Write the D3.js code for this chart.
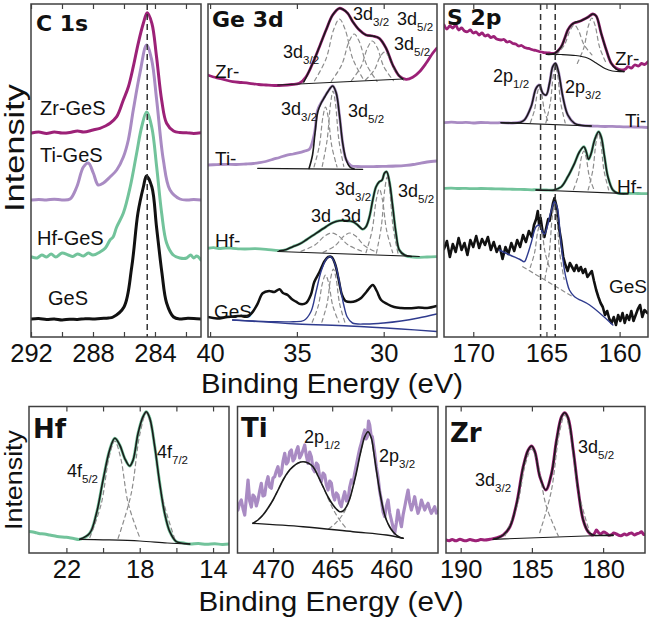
<!DOCTYPE html>
<html><head><meta charset="utf-8">
<script src="https://cdn.jsdelivr.net/npm/d3@7"></script>
<style>body{margin:0;background:#fff}</style>
</head><body><svg id="c" width="651" height="622"></svg>
<script>
// ---------------- DATA (binding energy eV, intensity a.u.) ----------------
// C 1s
const c1sTicks = [292,290,288,286,284,282], c1sTickLabels = [292,288,284];
const c1sRef = 284.5;
const c1sGeS = [[292,18],[291.5,18.5],[291,17.5],[290.5,18],[290,17],[289.5,17.8],[289,17.5],[288.5,18.3],[288,18],[287.5,18.6],[287,19],[286.7,20],[286.0,30],[285.5,70],[285.1,124],[284.75,150],[284.55,161],[284.2,150],[283.9,110],[283.55,64],[283.25,34],[282.8,20],[282.4,18],[282,18.6],[281.5,18.5],[281,18]];
const c1sHf = [[291.95,80],[291.6,79],[291.3,82],[291,80],[290.7,83],[290.4,80],[290,84],[289.6,82],[289.3,80.5],[289,83],[288.6,81],[288.3,84],[288,82],[287.55,85],[287.2,89],[286.9,97],[286.7,100],[286.47,110],[286.04,124],[285.6,150],[285.18,184],[284.86,210],[284.54,225],[284.21,210],[283.89,170],[283.57,124],[283.25,94],[282.82,82],[282.4,79],[281.95,79],[281.7,82],[281.5,79],[281.3,81],[281.03,77]];
const c1sTi = [[291.95,137],[291.5,137.5],[291,137],[290.5,137.8],[290,137],[289.48,138],[289.05,150],[288.62,170],[288.3,174],[287.98,164],[287.66,152],[287.33,154],[286.9,160],[286.47,167],[286.04,180],[285.72,197],[285.4,227],[284.97,264],[284.54,292],[284.21,277],[283.89,237],[283.46,177],[283.03,147],[282.39,138],[281.9,137],[281.5,137.5],[281.03,137]];
const c1sZr = [[291.96,204],[291.5,205],[291,203.5],[290.5,205],[290,204],[289.5,204.5],[289,206],[288.6,205],[288,207],[287.55,208.7],[287.2,211],[286.9,213.7],[286.47,220.3],[286.04,237],[285.72,250],[285.4,270.3],[285.08,293.7],[284.75,313.7],[284.5,324.3],[284.2,313.7],[283.9,280.3],[283.57,237],[283.25,213.7],[282.8,206],[282.4,204.5],[281.96,204.3],[281.5,203.5],[281.03,204.3]];

// Ge 3d
const ge3dTicks = [40,35,30];
const ge3dZr = [[40.14,262],[39.8,260],[39.47,258.7],[39.1,257],[38.7,255.3],[38.2,254.5],[37.74,253.7],[37.2,252.5],[36.78,252],[36.3,251.5],[35.82,251.7],[35.3,252.5],[34.86,253.7],[34.47,260.3],[34.09,273.7],[33.7,290.3],[33.32,307],[32.94,322],[32.55,328.7],[32.36,327.7],[32.07,323.7],[31.78,315.3],[31.4,307],[31.02,302],[30.63,301],[30.25,298.7],[29.86,288.7],[29.48,272],[29.1,261],[28.71,257.7],[28.33,259.7],[27.94,265.3],[27.56,273.7],[27.18,283.7],[26.95,288.7]];
const ge3dZrFit = [[34.6,255],[34.47,259.5],[34.09,273.7],[33.7,290.3],[33.32,307],[32.94,322],[32.55,328.7],[32.36,327.7],[32.07,323.7],[31.78,315.3],[31.4,307],[31.02,302],[30.63,301],[30.25,298.7],[29.86,288.7],[29.48,272],[29.1,261],[28.9,258]];
const ge3dZrBase = [[36.1,252],[28.9,258]];
const ge3dZrComps = [
  [[33.98,256.2],[33.33,277.7],[32.875,307.8],[32.55,318],[32.225,307.8],[31.77,277.7],[31.12,256.2]],
  [[33.02,255.7],[32.42,272.1],[32.0,295.2],[31.7,303],[31.4,295.2],[30.98,272.1],[30.38,255.7]],
  [[31.86,256.4],[31.31,270.2],[30.925,289.4],[30.65,296],[30.375,289.4],[29.99,270.2],[29.44,256.4]],
  [[31.05,257],[30.55,266.7],[30.2,280.4],[29.95,285],[29.7,280.4],[29.35,266.7],[28.85,257]]];
const ge3dTi = [[40.14,172],[39.6,172.4],[39.08,172.7],[38.5,172.5],[37.93,173],[37.5,173.5],[37.16,174.3],[36.8,175.5],[36.39,177.7],[36,179.5],[35.62,181.7],[35.2,183],[34.86,184.3],[34.55,186],[34.28,187.7],[33.99,203.7],[33.8,227],[33.51,237],[33.22,245.3],[32.94,251],[32.74,244.3],[32.55,222],[32.36,193.7],[32.17,177.7],[31.88,171.3],[31.5,170.5],[31.02,170.3],[30.4,170.5],[29.86,170.7],[29.3,171],[28.71,171.7],[28.3,172.5],[27.94,173.7],[27.5,175],[26.95,176]];
const ge3dTiFit = [[34.3,168.5],[34.1,182],[33.95,205],[33.8,225],[33.6,234],[33.4,240],[33.22,245.3],[32.94,251],[32.74,244.3],[32.55,222],[32.36,193.7],[32.17,177.7],[31.95,170],[31.7,168]];
const ge3dTiBase = [[37.26,168.7],[31.21,167.7]];
const ge3dTiComps = [
  [[34.01,170.2],[33.71,190.9],[33.5,220.1],[33.35,230],[33.2,220.1],[32.99,190.9],[32.69,170.2]],
  [[33.54,170.7],[33.26,196.9],[33.06,233.5],[32.92,246],[32.78,233.5],[32.58,196.9],[32.3,170.7]]];
const ge3dHf = [[40.14,88.7],[39.8,89.3],[39.5,88.5],[39.1,89],[38.7,88.7],[38.3,88.2],[38,88],[37.4,88.3],[36.78,87.7],[36.01,86.3],[35.6,87.5],[35.24,90.3],[34.85,93],[34.47,97],[33.9,103.7],[33.32,110.3],[32.94,114.3],[32.55,116.3],[32.17,116.3],[31.78,115.3],[31.5,112],[31.21,107.7],[31.02,110.3],[30.82,120.3],[30.63,137],[30.44,150.3],[30.25,155.3],[30.09,157],[29.96,163.7],[29.83,165.3],[29.67,155.3],[29.48,130.3],[29.29,103.7],[29.1,87],[28.71,81],[28.3,80],[27.94,79.7],[27.5,80],[26.95,80.3]];
const ge3dHfFit = [[36.01,86.3],[35.6,87.5],[35.24,90.3],[34.85,93],[34.47,97],[33.9,103.7],[33.32,110.3],[32.94,114.3],[32.55,116.3],[32.17,116.3],[31.78,115.3],[31.5,112],[31.21,107.7],[31.02,110.3],[30.82,120.3],[30.63,137],[30.44,150.3],[30.25,155.3],[30.09,157],[29.96,163.7],[29.83,165.3],[29.67,155.3],[29.48,130.3],[29.29,103.7],[29.1,87],[28.8,82],[28.4,80.5]];
const ge3dHfBase = [[36.1,85.5],[27.95,80.5]];
const ge3dHfComps = [
  [[34.76,85.7],[33.96,92],[33.4,101],[33.0,104],[32.6,101],[32.04,92],[31.24,85.7]],
  [[33.49,84.7],[32.79,91.4],[32.3,100.8],[31.95,104],[31.6,100.8],[31.11,91.4],[30.41,84.7]],
  [[31.02,84.3],[30.67,106.4],[30.425,137.4],[30.25,148],[30.075,137.4],[29.83,106.4],[29.48,84.3]],
  [[30.42,83.8],[30.14,110.2],[29.94,147.4],[29.8,160],[29.66,147.4],[29.46,110.2],[29.18,83.8]]];
const ge3dGeS = [[40.14,20],[39.6,18.5],[39.0,20],[38.4,21],[37.73,22],[37.3,32],[36.97,43.7],[36.6,46],[36.3,45],[36.0,47.7],[35.8,44],[35.53,42],[35.3,38],[35.05,35.3],[34.8,33],[34.47,34],[34.2,42],[34.0,55],[33.7,65],[33.4,76],[33.2,80],[33.0,80],[32.8,73],[32.6,58],[32.4,42],[32.2,36],[31.9,35],[31.6,36],[31.3,39],[31.0,45],[30.63,52],[30.4,46],[30.15,37],[29.8,33],[29.4,30],[29.0,29],[28.5,28.7],[28.0,29.5],[27.5,29],[26.95,31]];
const ge3dGeSFit = [[38.7,17],[37.5,16],[36.2,15.2],[35.2,15.3],[34.6,16.5],[34.2,25],[33.9,45],[33.6,66],[33.3,78],[33.1,80.5],[32.9,77],[32.7,67],[32.5,50],[32.3,32],[32.1,20],[31.8,14],[31,13],[30,14],[29,16],[28,19],[26.95,23]];
const ge3dGeSBase = [[38.7,17],[35,13],[32,11],[29,8],[26.95,5.5]];
const ge3dGeSComps = [
  [[34.12,14.7],[33.77,31.1],[33.525,54.2],[33.35,62],[33.175,54.2],[32.93,31.1],[32.58,14.7]],
  [[33.56,14.9],[33.26,33.4],[33.05,59.2],[32.9,68],[32.75,59.2],[32.54,33.4],[32.24,14.9]]];

// S 2p
const s2pTicks = [170,165,160];
const s2pRefs = [165.4,164.4];
const s2pZr = [[171.99,312],[171.8,308],[171.6,311],[171.4,309],[171.2,312],[171.0,307],[170.8,309],[170.6,306],[170.39,305.3],[170.2,307],[170.0,304],[169.8,305],[169.6,302],[169.4,304],[169.2,301],[169.0,302],[168.8,299.5],[168.6,300.5],[168.4,298],[168.1,297],[167.9,297.5],[167.7,295],[167.5,295.5],[167.3,293.5],[167.1,293],[166.9,291],[166.7,291.5],[166.5,289.5],[166.28,288.7],[166.1,288],[165.9,287],[165.7,286.5],[165.5,285.5],[165.3,285],[165.14,284.3],[164.8,284],[164.45,283.7],[164.0,290],[163.77,298],[163.54,307],[163.3,312],[163.08,314.3],[162.85,315],[162.63,316.3],[162.4,318],[162.17,319.7],[161.83,323],[161.6,321],[161.26,303.7],[160.91,287],[160.57,273.7],[160.23,268.7],[159.89,267],[159.6,268],[159.43,270.3],[159.2,269],[158.97,272],[158.7,271],[158.5,273.5],[158.3,272.5],[158.06,275.3]];
const s2pZrFit = [[165.0,282.7],[164.45,283.5],[164.0,290],[163.77,298],[163.54,307],[163.3,312],[163.08,314.3],[162.63,316.3],[162.17,319.7],[161.83,323],[161.6,321],[161.26,303.7],[160.91,287],[160.57,273.7],[160.23,268],[159.89,266],[159.7,265.5]];
const s2pZrBase = [[165.0,282.7],[164,282.5],[163,281.5],[162.2,279],[161.6,274],[161,268.5],[160.5,266],[159.7,265.3]];
const s2pZrComps = [
  [[164.31,282.1],[163.76,292.5],[163.375,307],[163.1,312],[162.825,307],[162.44,292.5],[161.89,282.1]],
  [[162.89,273.6],[162.44,289.4],[162.125,311.5],[161.9,319],[161.675,311.5],[161.36,289.4],[160.91,273.6]]];
const s2pTi = [[171.99,214.3],[171.5,214.8],[171,214.3],[170.5,214.6],[170,214],[169.5,214.5],[169,214.3],[168.5,214.1],[168.1,214.3],[167.3,214],[166.8,215],[166.51,217],[166.05,230.3],[165.71,248.7],[165.48,252],[165.25,243.7],[165.02,242],[164.79,253.7],[164.57,270.3],[164.38,273.7],[164.18,265.3],[163.88,240.3],[163.54,222],[163.08,213.7],[162.63,211.7],[162,211],[161.5,210.8],[161,210.5],[160.5,210.6],[160,210.3],[159.5,210.1],[159,210],[158.5,209.8],[158.06,209.5]];
const s2pTiFit = [[168.1,214.3],[167.3,214],[166.8,214.5],[166.51,217],[166.05,230.3],[165.71,248.7],[165.48,252],[165.25,243.7],[165.02,242],[164.79,253.7],[164.57,270.3],[164.38,273.7],[164.18,265.3],[163.88,240.3],[163.54,222],[163.08,213.7],[162.63,211.7],[161.94,211]];
const s2pTiBase = [[168.1,214.3],[161.94,211]];
const s2pTiComps = [
  [[166.1,214.3],[165.82,226.7],[165.62,244.1],[165.48,250],[165.34,244.1],[165.14,226.7],[164.86,214.3]],
  [[165.04,214.1],[164.74,233.8],[164.53,261.6],[164.38,271],[164.23,261.6],[164.02,233.8],[163.72,214.1]]];
const s2pHf = [[171.99,148.7],[171.5,148.9],[171,148.5],[170.5,148.6],[170,148.3],[169.5,148.5],[169,148.4],[168.5,148.1],[168,148],[167.5,147.8],[167,147.6],[166.5,147.5],[166,147.2],[165.71,147.3],[165,147],[164.5,147],[164.0,150],[163.54,160.3],[163.08,173.7],[162.74,185.3],[162.44,190.3],[162.28,185.3],[162.12,177.7],[161.94,183.7],[161.71,197],[161.44,205.3],[161.26,200.3],[161.03,180.3],[160.8,160.3],[160.46,147],[160.11,143.7],[159.43,143.7],[159,143.6],[158.5,143.4],[158.06,143.3]];
const s2pHfFit = [[165.71,147],[165,146.8],[164.5,147],[164.0,150],[163.54,160.3],[163.08,173.7],[162.74,185.3],[162.44,190.3],[162.28,185.3],[162.12,177.7],[161.94,183.7],[161.71,197],[161.44,205.3],[161.26,200.3],[161.03,180.3],[160.8,160.3],[160.46,147],[160.11,143.7],[159.43,143.3]];
const s2pHfBase = [[165.71,147],[159.43,143.3]];
const s2pHfComps = [
  [[163.15,147.4],[162.83,160.8],[162.61,179.6],[162.45,186],[162.29,179.6],[162.07,160.8],[161.75,147.4]],
  [[162.15,147.1],[161.83,166.8],[161.61,194.6],[161.45,204],[161.29,194.6],[161.07,166.8],[160.75,147.1]]];
const s2pGeS = [[172.0,88],[171.8,96],[171.6,80],[171.4,93],[171.2,85],[171.0,99],[170.8,87],[170.6,94],[170.4,82],[170.2,97],[170.0,90],[169.8,101],[169.6,89],[169.4,98],[169.2,92],[169.0,100],[168.8,87],[168.6,95],[168.4,85],[168.2,91],[168.0,78],[167.8,90],[167.6,83],[167.4,94],[167.2,86],[167.0,97],[166.8,90],[166.6,102],[166.4,95],[166.2,106],[166.0,100],[165.85,112],[165.7,118],[165.59,126],[165.5,112],[165.4,119],[165.25,104],[165.14,100],[165.0,110],[164.88,118],[164.79,116],[164.65,126],[164.55,134],[164.45,139],[164.3,130],[164.15,110],[164.0,97],[163.85,80],[163.7,72],[163.55,66],[163.4,74],[163.25,70],[163.1,66],[162.95,72],[162.8,66],[162.65,70],[162.5,64],[162.35,68],[162.2,60],[162.05,63],[161.9,66],[161.75,56],[161.6,47],[161.45,40],[161.3,34],[161.15,30],[161.0,22],[160.85,26],[160.7,18],[160.55,14],[160.4,20],[160.25,12],[160.1,22],[159.95,16],[159.8,24],[159.65,14],[159.5,22],[159.35,17],[159.2,26],[159.05,16],[158.9,22],[158.75,28],[158.6,32],[158.45,20],[158.3,27],[158.1,24]];
const s2pGeSFit = [[168.22,87],[167.5,82],[166.8,77.5],[166.51,75.3],[166.3,82],[166.05,93.7],[165.71,110.3],[165.5,112],[165.37,108],[165.14,103],[164.95,110],[164.79,120],[164.6,130],[164.45,135.3],[164.3,131],[164.22,127],[164.0,93.7],[163.77,67],[163.6,55],[163.43,47],[163.08,40.3],[162.05,32],[160.46,12]];
const s2pGeSBase = [[166.62,70.3],[163.2,40.3]];
const s2pGeSComps = [
  [[166.11,69.5],[165.81,84.3],[165.6,105],[165.45,112],[165.3,105],[165.09,84.3],[164.79,69.5]],
  [[165.11,57.7],[164.81,83.9],[164.6,120.5],[164.45,133],[164.3,120.5],[164.09,83.9],[163.79,57.7]]];

// Hf 4f
const hfTicks = [22,20,18,16,14], hfTickLabels = [22,18,14];
const hfData = [[24.04,21.5],[23.91,21.3],[23.7,20.5],[23.5,19.5],[23.2,19],[22.91,18],[22.5,16.5],[22.0,15.7],[21.6,14.5],[21.27,13.7],[20.73,19.7],[20.36,39.7],[20.0,73],[19.64,103],[19.36,114.7],[19.09,108],[18.82,94.7],[18.55,87],[18.36,93],[18.09,119.7],[17.82,136.3],[17.64,141.3],[17.45,134.7],[17.18,106.3],[16.91,69.7],[16.64,39.7],[16.36,21.3],[16.0,11.3],[15.6,10],[15.27,9],[14.8,9.5],[14.36,8.7],[13.9,9.3],[13.5,8.5],[13.13,9]];
const hfFit = [[21.27,13.7],[20.73,19.7],[20.36,39.7],[20.0,73],[19.64,103],[19.36,114.7],[19.09,108],[18.82,94.7],[18.55,87],[18.36,93],[18.09,119.7],[17.82,136.3],[17.64,141.3],[17.45,134.7],[17.18,106.3],[16.91,69.7],[16.64,39.7],[16.36,21.3],[16.0,11.3],[15.6,9.5],[15.27,9]];
const hfBase = [[21.27,13.7],[20,13.2],[18,12],[16.5,10],[15.27,9]];
const hfComps = [
  [[20.72,15.5],[20.1,49],[19.67,96],[19.36,112],[19.05,96],[18.62,49],[18.0,15.5]],
  [[19.18,14.6],[18.48,58.1],[17.99,119.2],[17.64,140],[17.29,119.2],[16.8,58.1],[16.1,14.6]]];

// Ti 2p
const tiTicks = [470,465,460];
const tiData = [[472.96,43],[472.82,50],[472.68,53],[472.53,44],[472.39,38],[472.25,55],[472.11,73],[471.97,52],[471.83,46],[471.69,58],[471.55,56],[471.41,47],[471.27,53],[471.13,62],[470.99,69.7],[470.85,57],[470.7,58],[470.56,70],[470.42,76.3],[470.28,66],[470.14,64.7],[470.0,75],[469.86,76.3],[469.72,82],[469.58,86.3],[469.44,77],[469.3,79.7],[469.15,92],[469.01,99.7],[468.87,89],[468.73,91.3],[468.59,101],[468.45,103],[468.31,92],[468.17,94.7],[468.03,102],[467.89,106.3],[467.75,95],[467.61,98],[467.46,103],[467.32,108],[467.18,97],[467.04,89.7],[466.9,101],[466.76,96.3],[466.62,84],[466.48,81.3],[466.34,90],[466.2,88],[466.06,76],[465.92,71.3],[465.77,80],[465.63,78],[465.49,68],[465.35,63],[465.21,72],[465.07,69.7],[464.93,58],[464.79,53],[464.65,60],[464.51,58],[464.37,50],[464.23,46.3],[464.08,55],[463.94,61.3],[463.8,52],[463.66,53],[463.52,66],[463.38,73],[463.24,70],[463.1,79.7],[462.96,88],[462.82,96.3],[462.68,104],[462.54,109.7],[462.4,117],[462.25,123],[462.14,114],[462.03,116.3],[461.93,132],[461.83,128],[461.72,118],[461.61,116.3],[461.51,108],[461.41,99.7],[461.27,86],[461.13,76.3],[460.99,62],[460.85,53],[460.7,41],[460.56,36.3],[460.42,47],[460.28,53],[460.14,40],[460.0,33],[459.86,26],[459.72,19.7],[459.58,30],[459.44,43],[459.3,34],[459.15,26.3],[459.01,38],[458.87,46.3],[458.73,55],[458.59,63],[458.45,50],[458.31,43],[458.17,49],[458.03,56.3],[457.89,47],[457.75,39.7],[457.6,45],[457.46,53],[457.32,48],[457.18,43],[457.04,47],[456.9,49.7],[456.76,44],[456.62,39.7],[456.48,43],[456.34,46.3],[456.2,40],[456.08,41.3]];
const tiFit = [[471.69,29.7],[471.27,33],[470.85,38],[470.42,45],[470,53],[469.57,63],[469.15,73],[468.73,81],[468.31,86.3],[467.88,90],[467.46,91.3],[467.04,90],[466.62,86.3],[466.2,77],[465.77,66.3],[465.35,56],[464.93,48],[464.65,44],[464.37,41.3],[464.08,42],[463.8,46.3],[463.52,54],[463.24,66.3],[462.96,80],[462.68,96.3],[462.45,108],[462.25,116.3],[461.97,121.3],[461.69,114.7],[461.48,100],[461.27,83],[461.06,67],[460.85,53],[460.63,41],[460.42,33],[460.14,26],[459.86,21.3],[459.58,18],[459.3,15.7],[459.01,14.7]];
const tiBase = [[471.69,29.7],[467.46,26.3],[463.24,21.3],[460.42,18],[459.01,14.7]];
const tiComps = [
  [[471.69,29.7],[470.85,38],[470,53],[469.15,73],[468.31,86.3],[467.46,91.3],[466.62,86.3],[465.77,66],[464.93,44],[464.37,33],[463.8,24.5]],
  [[465.3,24],[464.7,30],[464.2,37],[463.8,45],[463.24,66.3],[462.68,96.3],[462.25,116.3],[461.97,121.3],[461.69,114.7],[461.27,83],[460.85,53],[460.42,33],[459.86,21.3],[459.3,15.7]]];

// Zr 3d
const zrTicks = [190,185,180];
const zrData = [[191.03,13],[190.8,12.3],[190.6,13.5],[190.35,12.2],[190.05,13.7],[189.8,12.5],[189.6,12.3],[189.35,13.4],[189.11,12.7],[188.85,12.4],[188.6,13.5],[188.3,13],[187.94,13.7],[187.5,15],[187.01,18],[186.54,26.3],[186.07,49.7],[185.61,86.3],[185.26,103],[185.02,107],[184.79,101.3],[184.44,76.3],[184.02,63],[183.62,79.7],[183.27,113],[182.92,136.3],[182.69,140.3],[182.45,134.7],[182.1,103],[181.75,63],[181.4,33],[181.05,21.3],[180.7,18],[180.55,21],[180.47,23],[180.3,20],[180.2,19],[179.95,21],[179.77,19.7],[179.6,17.8],[179.4,18.5],[179.25,20],[179.07,19],[178.85,17.5],[178.7,17.5],[178.5,19],[178.36,18],[178.15,19.5],[178.0,20],[177.8,18],[177.66,19],[177.45,20],[177.31,21.3],[177.15,18.5],[177.01,19]];
const zrFit = [[187.71,13.7],[187.4,15],[187.01,18],[186.54,26.3],[186.07,49.7],[185.61,86.3],[185.26,103],[185.02,107],[184.79,101.3],[184.44,76.3],[184.02,63],[183.62,79.7],[183.27,113],[182.92,136.3],[182.69,140.3],[182.45,134.7],[182.1,103],[181.75,63],[181.4,33],[181.05,21.3],[180.7,18],[180.0,17.5],[179.3,17.6]];
const zrBase = [[187.71,13.7],[179.3,18]];
const zrComps = [
  [[186.89,17.2],[186.04,47.3],[185.445,89.6],[185.02,104],[184.595,89.6],[184.0,47.3],[183.15,17.2]],
  [[184.45,20.3],[183.65,61.1],[183.09,118.5],[182.69,138],[182.29,118.5],[181.73,61.1],[180.93,20.3]]];

// ---------------- DRAWING ----------------
const svg = d3.select('#c');
const COL = {zr:'#9c2177', ti:'#a98bc3', hf:'#72c39b', ges:'#111111', blue:'#2f3b8e', dash:'#8d8d8d', frame:'#404040'};
const FONT = "'Liberation Sans', Arial, Helvetica, sans-serif";
const BOLD = "'DejaVu Sans', sans-serif";
let clipN = 0;

function panel(p){
  const x = d3.scaleLinear().domain(p.dom).range([p.x0, p.x1]);
  const y = d3.scaleLinear().domain([0, p.ymax]).range([p.y1, p.y0]);
  const id = 'clip' + (clipN++);
  svg.append('clipPath').attr('id', id).append('rect')
     .attr('x', p.x0).attr('y', p.y0).attr('width', p.x1 - p.x0).attr('height', p.y1 - p.y0);
  const g = svg.append('g').attr('clip-path', `url(#${id})`);
  const lbls = p.labels || p.ticks;
  const bot = svg.append('g').attr('transform', `translate(0,${p.y1})`)
     .call(d3.axisBottom(x).tickValues(p.ticks).tickSize(-5).tickPadding(7)
       .tickFormat(d => lbls.includes(d) ? d : ''));
  const top = svg.append('g').attr('transform', `translate(0,${p.y0})`)
     .call(d3.axisTop(x).tickValues(p.ticks).tickSize(-5).tickFormat(''));
  [bot, top].forEach(a => {
    a.select('.domain').remove();
    a.selectAll('line').attr('stroke', COL.frame).attr('stroke-width', 1.2);
    a.selectAll('text').attr('font-family', FONT).attr('font-size', 25.5).attr('fill', '#111');
  });
  svg.append('rect').attr('x', p.x0).attr('y', p.y0).attr('width', p.x1 - p.x0).attr('height', p.y1 - p.y0)
     .attr('fill', 'none').attr('stroke', COL.frame).attr('stroke-width', 1.5);
  return {x, y, g, p};
}

function curve(P, data, color, width, opts = {}){
  const line = d3.line().x(d => P.x(d[0])).y(d => P.y(d[1]))
     .curve(opts.linear ? d3.curveLinear : d3.curveCatmullRom.alpha(0.5));
  const path = P.g.append('path').datum(data).attr('d', line).attr('fill', 'none')
     .attr('stroke', color).attr('stroke-width', width)
     .attr('stroke-linejoin', 'round').attr('stroke-linecap', 'round');
  if (opts.dash) path.attr('stroke-dasharray', opts.dash);
  return path;
}
function comps(P, list){ list.forEach(c => curve(P, c, COL.dash, 1.2, {dash: '4,3.5'})); }
function vref(P, e){
  P.g.append('line').attr('x1', P.x(e)).attr('x2', P.x(e)).attr('y1', P.p.y0).attr('y2', P.p.y1)
    .attr('stroke', '#333').attr('stroke-width', 1.5).attr('stroke-dasharray', '6,4');
}
function label(x, y, txt, size, opts = {}){
  return svg.append('text').attr('x', x).attr('y', y).text(txt)
    .attr('font-family', opts.bold ? BOLD : FONT).attr('font-weight', opts.bold ? 'bold' : 'normal')
    .attr('font-size', size).attr('fill', '#111');
}
function sublabel(x, y, main, sub, size){
  const t = svg.append('text').attr('x', x).attr('y', y).attr('font-family', FONT)
    .attr('font-size', size).attr('fill', '#111');
  t.append('tspan').text(main);
  t.append('tspan').attr('dy', size * 0.32).attr('font-size', size * 0.64).text(sub);
}

// ---- C 1s
const P1 = panel({x0:31, x1:201, y0:4, y1:337, dom:[292, 281.03], ymax:333, ticks:c1sTicks, labels:c1sTickLabels});
curve(P1, c1sGeS, COL.ges, 3);
curve(P1, c1sHf, COL.hf, 3);
curve(P1, c1sTi, COL.ti, 3);
curve(P1, c1sZr, COL.zr, 3);
vref(P1, c1sRef);
label(36, 31, 'C 1s', 22, {bold:true});
label(40, 115, 'Zr-GeS', 20);
label(40, 162, 'Ti-GeS', 20);
label(37, 245, 'Hf-GeS', 20);
label(48, 305, 'GeS', 20);

// ---- Ge 3d
const P2 = panel({x0:208, x1:437, y0:4, y1:337, dom:[40.12, 26.93], ymax:333, ticks:ge3dTicks});
curve(P2, ge3dZr, COL.zr, 2.8);
curve(P2, ge3dTi, COL.ti, 2.8);
curve(P2, ge3dHf, COL.hf, 2.8);
curve(P2, ge3dGeS, COL.ges, 2.5);
comps(P2, ge3dZrComps); comps(P2, ge3dTiComps); comps(P2, ge3dHfComps); comps(P2, ge3dGeSComps);
curve(P2, ge3dZrFit, '#1a1a1a', 1.6); curve(P2, ge3dZrBase, '#1a1a1a', 1.2);
curve(P2, ge3dTiFit, '#1a1a1a', 1.6); curve(P2, ge3dTiBase, '#1a1a1a', 1.2);
curve(P2, ge3dHfFit, '#1a1a1a', 1.6); curve(P2, ge3dHfBase, '#1a1a1a', 1.2);
curve(P2, ge3dGeSFit, COL.blue, 1.4); curve(P2, ge3dGeSBase, COL.blue, 1.4);
label(212, 27, 'Ge 3d', 22, {bold:true});
label(215, 78, 'Zr-', 19); label(215, 165, 'Ti-', 19); label(215, 247, 'Hf-', 19); label(214, 318, 'GeS', 19);
sublabel(283, 58, '3d', '3/2', 18);
sublabel(353, 20, '3d', '3/2', 18);
sublabel(397, 25, '3d', '5/2', 18);
sublabel(394, 50, '3d', '5/2', 18);
sublabel(281, 115, '3d', '3/2', 18);
sublabel(348, 117, '3d', '5/2', 18);
sublabel(335, 195, '3d', '3/2', 18);
sublabel(398, 197, '3d', '5/2', 18);
label(311, 222, '3d', 18); label(341, 222, '3d', 18);

// ---- S 2p
const P3 = panel({x0:444, x1:648, y0:4, y1:337, dom:[172.0, 158.06], ymax:333, ticks:s2pTicks});
curve(P3, s2pZr, COL.zr, 2.8);
curve(P3, s2pTi, COL.ti, 2.8);
curve(P3, s2pHf, COL.hf, 2.8);
curve(P3, s2pGeS, COL.ges, 2.6, {linear:true});
comps(P3, s2pZrComps); comps(P3, s2pTiComps); comps(P3, s2pHfComps); comps(P3, s2pGeSComps);
curve(P3, s2pGeSBase, COL.dash, 1.2, {dash:'4,3.5'});
curve(P3, s2pZrFit, '#1a1a1a', 1.6); curve(P3, s2pZrBase, '#1a1a1a', 1.2);
curve(P3, s2pTiFit, '#1a1a1a', 1.6); curve(P3, s2pTiBase, '#1a1a1a', 1.2);
curve(P3, s2pHfFit, '#1a1a1a', 1.6); curve(P3, s2pHfBase, '#1a1a1a', 1.2);
curve(P3, s2pGeSFit, COL.blue, 1.4);
s2pRefs.forEach(e => vref(P3, e));
label(447, 25, 'S 2p', 22, {bold:true});
label(615, 65, 'Zr-', 19); label(625, 127, 'Ti-', 19); label(617, 193, 'Hf-', 19); label(609, 293, 'GeS', 19);
sublabel(493, 82, '2p', '1/2', 18);
sublabel(565, 93, '2p', '3/2', 18);

// ---- Hf 4f
const P4 = panel({x0:29, x1:229, y0:406.5, y1:553, dom:[24.04, 13.13], ymax:146.5, ticks:hfTicks, labels:hfTickLabels});
curve(P4, hfData, COL.hf, 3);
comps(P4, hfComps);
curve(P4, hfFit, '#1a1a1a', 1.6); curve(P4, hfBase, '#1a1a1a', 1.2);
label(33, 438, 'Hf', 26, {bold:true});
sublabel(67, 477, '4f', '5/2', 18);
sublabel(157, 458, '4f', '7/2', 18);

// ---- Ti 2p
const P5 = panel({x0:237.5, x1:438, y0:406.5, y1:553, dom:[473.0, 456.06], ymax:146.5, ticks:tiTicks});
curve(P5, tiData, COL.ti, 3.2, {linear:true});
comps(P5, tiComps);
curve(P5, tiFit, '#1a1a1a', 1.6); curve(P5, tiBase, '#1a1a1a', 1.4);
label(241, 437, 'Ti', 26, {bold:true});
sublabel(304, 443, '2p', '1/2', 18);
sublabel(379, 462, '2p', '3/2', 18);

// ---- Zr 3d
const P6 = panel({x0:446, x1:645, y0:406.5, y1:553, dom:[191.03, 177.06], ymax:146.5, ticks:zrTicks});
curve(P6, zrData, COL.zr, 3);
comps(P6, zrComps);
curve(P6, zrFit, '#1a1a1a', 1.6); curve(P6, zrBase, '#1a1a1a', 1.2);
label(450, 442, 'Zr', 26, {bold:true});
sublabel(475, 486, '3d', '3/2', 18);
sublabel(578, 453, '3d', '5/2', 18);

// ---- Axis titles
svg.append('text').attr('x', 332).attr('y', 393).attr('text-anchor', 'middle')
  .attr('font-family', FONT).attr('font-size', 27).attr('fill', '#111')
  .attr('textLength', 262).attr('lengthAdjust', 'spacingAndGlyphs').text('Binding Energy (eV)');
svg.append('text').attr('x', 331).attr('y', 611).attr('text-anchor', 'middle')
  .attr('font-family', FONT).attr('font-size', 27).attr('fill', '#111')
  .attr('textLength', 265).attr('lengthAdjust', 'spacingAndGlyphs').text('Binding Energy (eV)');
svg.append('text').attr('transform', 'translate(24,148) rotate(-90)').attr('text-anchor', 'middle')
  .attr('font-family', FONT).attr('font-size', 27).attr('fill', '#111')
  .attr('textLength', 128).attr('lengthAdjust', 'spacingAndGlyphs').text('Intensity');
svg.append('text').attr('transform', 'translate(22,480) rotate(-90)').attr('text-anchor', 'middle')
  .attr('font-family', FONT).attr('font-size', 23).attr('fill', '#111')
  .attr('textLength', 100).attr('lengthAdjust', 'spacingAndGlyphs').text('Intensity');
</script></body></html>
